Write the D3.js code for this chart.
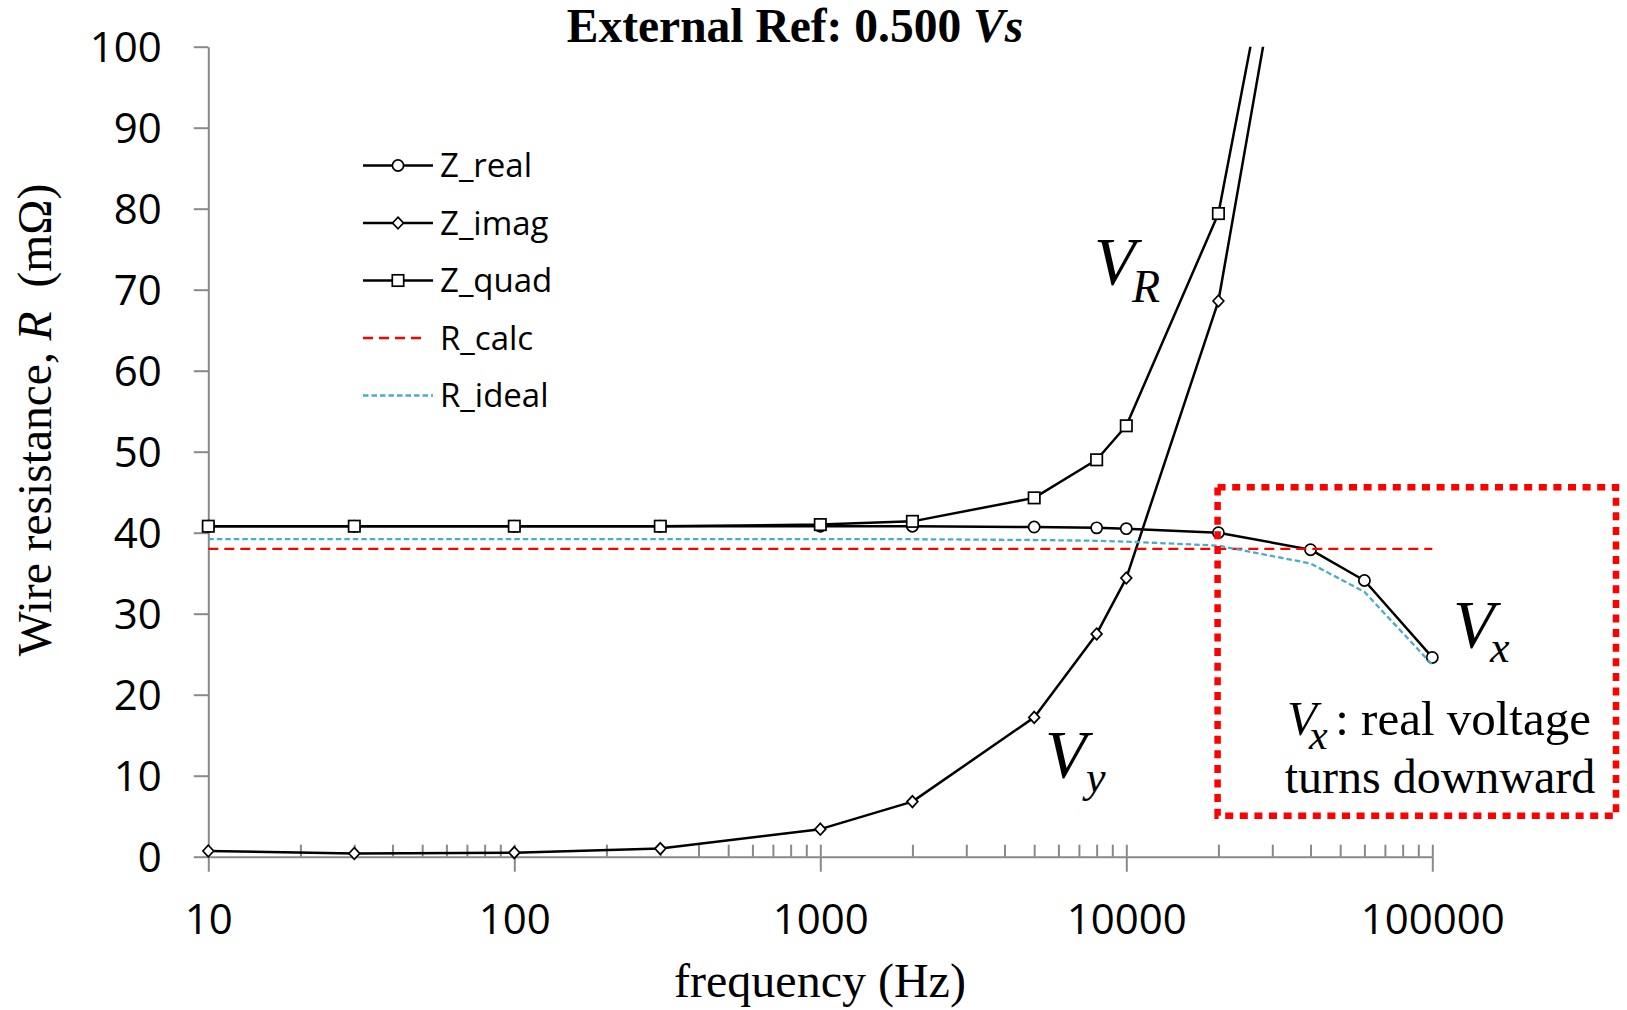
<!DOCTYPE html>
<html>
<head>
<meta charset="utf-8">
<script src="https://cdn.jsdelivr.net/npm/d3@7"></script>
<style>
  html, body { margin: 0; padding: 0; background: #fff; }
  svg { display: block; }
</style>
</head>
<body>
<svg id="chart" width="1627" height="1010"></svg>
<script>
// Measurement frequencies (Hz)
const freq = [10, 30, 100, 300, 1000, 2000, 5000, 8000, 10000, 20000, 40000, 60000, 100000];
// Real part of the impedance (mOhm)
const zReal = [40.8, 40.8, 40.8, 40.8, 40.8, 40.8, 40.7, 40.6, 40.5, 40.0, 37.9, 34.1, 24.6];
// Imaginary part (mOhm); rises off scale above 20 kHz
const zImag = [0.7, 0.4, 0.5, 1.0, 3.4, 6.8, 17.2, 27.5, 34.4, 68.6, 133.4];
// Quadrature magnitude (mOhm)
const zQuad = [40.8, 40.8, 40.8, 40.8, 41.0, 41.4, 44.3, 49.0, 53.2, 79.4, 138.7];
// Calculated DC resistance (mOhm)
const rCalc = [38.0, 38.0, 38.0, 38.0, 38.0, 38.0, 38.0, 38.0, 38.0, 38.0, 38.0, 38.0, 38.0];
// Ideal resistance including skin effect (mOhm)
const rIdeal = [39.2, 39.2, 39.2, 39.2, 39.2, 39.2, 39.1, 39.0, 38.9, 38.4, 36.2, 32.7, 23.7];

const yTicks = [0, 10, 20, 30, 40, 50, 60, 70, 80, 90, 100];
const xTicks = [10, 100, 1000, 10000, 100000];
const xMinorTicks = [];
[10, 100, 1000, 10000].forEach(d => { for (let k = 2; k <= 9; k++) xMinorTicks.push(d * k); });

const seriesNames = ["Z_real", "Z_imag", "Z_quad", "R_calc", "R_ideal"];

const svg = d3.select("#chart");
const sansFont = "'Open Sans', 'Noto Sans', sans-serif";
const serifFont = "'Liberation Serif', 'DejaVu Serif', serif";
const axisColor = "#898989";

const x = d3.scaleLog().domain([10, 100000]).range([208.3, 1432.3]);
const y = d3.scaleLinear().domain([0, 100]).range([856.7, 46.7]);

// Clip for curves leaving the top of the plot
svg.append("defs").append("clipPath").attr("id", "plotClip")
  .append("rect").attr("x", 150).attr("y", y(100)).attr("width", 1477).attr("height", y(0) - y(100) + 20);

// ---- axes ----
const yAxis = d3.axisLeft(y).tickValues(yTicks).tickSizeInner(14.5).tickSizeOuter(0).tickPadding(32);
const gy = svg.append("g").attr("transform", `translate(${x(10)},0)`).call(yAxis);
gy.select(".domain").attr("stroke", axisColor).attr("stroke-width", 2);
gy.selectAll(".tick line").attr("stroke", axisColor).attr("stroke-width", 2);
gy.selectAll(".tick text").attr("font-family", sansFont).attr("font-size", 42).attr("fill", "#000")
  .attr("dy", "0.357em");

// minor ticks (inside, pointing up)
const xMinor = d3.axisBottom(x).tickValues(xMinorTicks.concat(xTicks)).tickSizeInner(-12).tickSizeOuter(0).tickFormat("");
const gxm = svg.append("g").attr("transform", `translate(0,${y(0)})`).call(xMinor);
gxm.select(".domain").attr("stroke", axisColor).attr("stroke-width", 2);
gxm.selectAll(".tick line").attr("stroke", axisColor).attr("stroke-width", 2);

// major ticks (outside) with labels
const xAxis = d3.axisBottom(x).tickValues(xTicks).tickSizeInner(15).tickSizeOuter(0).tickFormat(d3.format("d"));
const gx = svg.append("g").attr("transform", `translate(0,${y(0)})`).call(xAxis);
gx.select(".domain").remove();
gx.selectAll(".tick line").attr("stroke", axisColor).attr("stroke-width", 2);
gx.selectAll(".tick text").attr("font-family", sansFont).attr("font-size", 42).attr("fill", "#000")
  .attr("y", 77.3).attr("dy", 0);

// ---- series ----
const line = d3.line().x(d => x(d[0])).y(d => y(d[1]));
const pairs = vals => vals.map((v, i) => [freq[i], v]);

const plot = svg.append("g").attr("clip-path", "url(#plotClip)");

function marker(sel, type) {
  if (type === "circle") {
    sel.append("circle").attr("r", 5.6);
  } else if (type === "square") {
    sel.append("rect").attr("x", -5.7).attr("y", -5.7).attr("width", 11.4).attr("height", 11.4);
  } else if (type === "diamond") {
    sel.append("path").attr("d", "M0,-5.8L5.4,0L0,5.8L-5.4,0Z");
  }
  sel.selectAll("circle,rect,path").attr("fill", "#fff").attr("stroke", "#000").attr("stroke-width", 1.7);
}

const zSeries = [
  { vals: zReal, type: "circle" },
  { vals: zImag, type: "diamond" },
  { vals: zQuad, type: "square" }
];
zSeries.forEach(s => {
  const data = pairs(s.vals);
  plot.append("path").datum(data).attr("d", line)
    .attr("fill", "none").attr("stroke", "#000").attr("stroke-width", 2.5).attr("stroke-linejoin", "round");
  plot.selectAll(null).data(data.filter(d => d[1] <= 100)).enter().append("g")
    .attr("transform", d => `translate(${x(d[0])},${y(d[1])})`)
    .each(function () { marker(d3.select(this), s.type); });
});

plot.append("path").datum(pairs(rCalc)).attr("d", line)
  .attr("fill", "none").attr("stroke", "#ff0000").attr("stroke-width", 2.3).attr("stroke-dasharray", "10,6");
plot.append("path").datum(pairs(rIdeal)).attr("d", line)
  .attr("fill", "none").attr("stroke", "#4bacc6").attr("stroke-width", 2.3).attr("stroke-dasharray", "5.5,3");

// ---- legend ----
const legend = svg.append("g");
const legendY = [165.5, 223, 280.5, 338, 395.5];
const legendStyles = [
  { type: "circle", color: "#000", dash: null, x2: 433 },
  { type: "diamond", color: "#000", dash: null, x2: 433 },
  { type: "square", color: "#000", dash: null, x2: 433 },
  { type: null, color: "#ff0000", dash: "10,6", x2: 427 },
  { type: null, color: "#4bacc6", dash: "5.5,3", x2: 433 }
];
seriesNames.forEach((name, i) => {
  const st = legendStyles[i];
  const g = legend.append("g").attr("transform", `translate(0,${legendY[i]})`);
  g.append("line").attr("x1", 363).attr("x2", st.x2).attr("y1", 0).attr("y2", 0)
    .attr("stroke", st.color).attr("stroke-width", st.dash ? 2.3 : 2.5)
    .attr("stroke-dasharray", st.dash);
  if (st.type) {
    const m = g.append("g").attr("transform", "translate(398,0)");
    marker(m, st.type);
  }
  g.append("text").attr("x", 440).attr("y", 0).attr("dy", "0.357em")
    .attr("font-family", sansFont).attr("font-size", 33).text(name);
});

// ---- titles ----
const title = svg.append("text").attr("x", 795).attr("y", 42).attr("text-anchor", "middle")
  .attr("font-family", serifFont).attr("font-size", 47.5).attr("font-weight", "bold");
title.append("tspan").text("External Ref: 0.500 ");
title.append("tspan").attr("font-style", "italic").text("Vs");

svg.append("text").attr("x", 820).attr("y", 997).attr("text-anchor", "middle")
  .attr("font-family", serifFont).attr("font-size", 48).text("frequency (Hz)");

const yTitle = svg.append("text").attr("transform", "translate(51,420) rotate(-90)").attr("text-anchor", "middle")
  .attr("font-family", serifFont).attr("font-size", 47.5);
yTitle.append("tspan").text("Wire resistance, ");
yTitle.append("tspan").attr("font-style", "italic").text("R");
yTitle.append("tspan").text("\u00a0 (m\u03a9)");

// ---- curve annotations ----
function vLabel(vx, vy, vSize, sub, sx, sy, sSize) {
  const t = svg.append("text").attr("font-family", serifFont).attr("font-style", "italic");
  t.append("tspan").attr("x", vx).attr("y", vy).attr("font-size", vSize).text("V");
  t.append("tspan").attr("x", sx).attr("y", sy).attr("font-size", sSize).text(sub);
}
vLabel(1094, 284, 68, "R", 1132, 302, 46);
vLabel(1045, 777, 68, "y", 1086, 792, 44);
vLabel(1453, 647, 68, "x", 1490, 662, 44);

// ---- highlighted region ----
svg.append("rect").attr("x", 1217.6).attr("y", 487.3).attr("width", 1616 - 1217.6).attr("height", 815.7 - 487.3)
  .attr("fill", "none").attr("stroke", "#ff0000").attr("stroke-width", 6.5).attr("stroke-dasharray", "8,6.6");

const note1 = svg.append("text").attr("font-family", serifFont).attr("font-size", 49);
note1.append("tspan").attr("x", 1287).attr("y", 735).attr("font-style", "italic").text("V");
note1.append("tspan").attr("x", 1309).attr("y", 749).attr("font-style", "italic").attr("font-size", 42).text("x");
svg.append("text").attr("x", 1591).attr("y", 735).attr("text-anchor", "end")
  .attr("font-family", serifFont).attr("font-size", 49).text(": real voltage");
svg.append("text").attr("x", 1440).attr("y", 793).attr("text-anchor", "middle")
  .attr("font-family", serifFont).attr("font-size", 48).text("turns downward");
</script>
</body>
</html>
